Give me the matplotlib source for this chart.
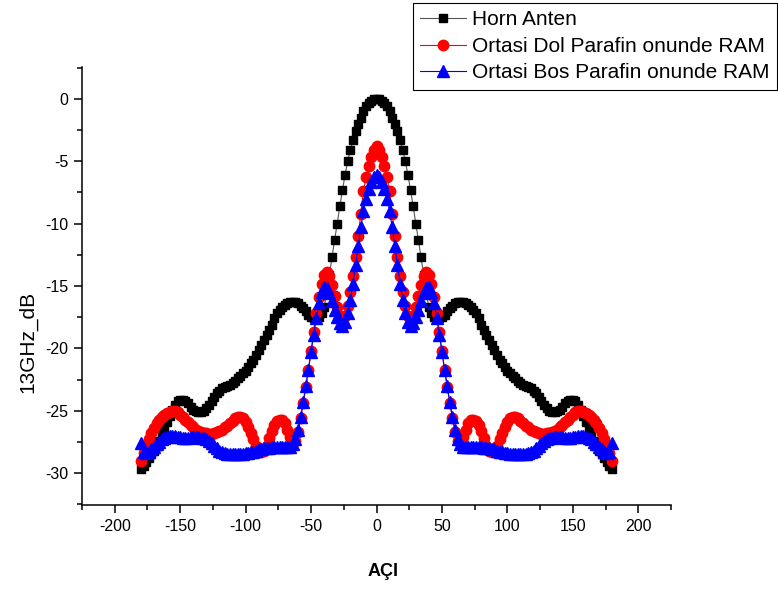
import numpy as np
import matplotlib
matplotlib.use('Agg')
import matplotlib.pyplot as plt

plt.rcParams['font.family'] = ['Liberation Sans', 'DejaVu Sans']
plt.rcParams['axes.unicode_minus'] = False

# angle grid (degrees)
aci = np.arange(-180, 181, 2)

horn = [
    -29.7, -29.4, -29.1, -28.8, -28.5, -28.2, -27.8, -27.4, -26.9, -26.4,
    -25.9, -25.4, -24.9, -24.5, -24.2, -24.1, -24.1, -24.2, -24.4, -24.7,
    -24.9, -25.0, -25.1, -25.1, -25.0, -24.8, -24.5, -24.2, -23.9, -23.6,
    -23.4, -23.2, -23.1, -23.0, -22.9, -22.8, -22.6, -22.4, -22.2, -22.0,
    -21.8, -21.5, -21.2, -20.9, -20.5, -20.1, -19.7, -19.3, -18.9, -18.5,
    -18.1, -17.6, -17.2, -16.9, -16.7, -16.5, -16.4, -16.3, -16.3, -16.3,
    -16.4, -16.6, -16.8, -17.0, -17.3, -17.5, -17.6, -17.6, -17.5, -17.2,
    -16.7, -15.5, -14.1, -12.7, -11.3, -10.0, -8.6, -7.3, -6.1, -5.0,
    -4.1, -3.3, -2.6, -2.0, -1.5, -1.0, -0.6, -0.35, -0.15, -0.05,
    0.0,
    -0.05, -0.15, -0.35, -0.6, -1.0, -1.5, -2.0, -2.6, -3.3, -4.1,
    -5.0, -6.1, -7.3, -8.6, -10.0, -11.3, -12.7, -14.1, -15.5, -16.7,
    -17.2, -17.5, -17.6, -17.6, -17.5, -17.3, -17.0, -16.8, -16.6, -16.4,
    -16.3, -16.3, -16.3, -16.4, -16.5, -16.7, -16.9, -17.2, -17.6, -18.1,
    -18.5, -18.9, -19.3, -19.7, -20.1, -20.5, -20.9, -21.2, -21.5, -21.8,
    -22.0, -22.2, -22.4, -22.6, -22.8, -22.9, -23.0, -23.1, -23.2, -23.4,
    -23.6, -23.9, -24.2, -24.5, -24.8, -25.0, -25.1, -25.1, -25.0, -24.9,
    -24.7, -24.4, -24.2, -24.1, -24.1, -24.2, -24.5, -24.9, -25.4, -25.9,
    -26.4, -26.9, -27.4, -27.8, -28.2, -28.5, -28.8, -29.1, -29.4, -29.7,
]

dol = [
    -29.0, -28.4, -27.8, -27.3, -26.8, -26.4, -26.0, -25.7, -25.5, -25.3,
    -25.2, -25.1, -25.0, -25.0, -25.1, -25.3, -25.5, -25.7, -25.9, -26.1,
    -26.3, -26.5, -26.6, -26.7, -26.8, -26.8, -26.9, -26.9, -26.8, -26.7,
    -26.6, -26.5, -26.3, -26.2, -26.0, -25.8, -25.6, -25.5, -25.5, -25.6,
    -25.9, -26.3, -26.8, -27.3, -27.8, -28.1, -28.3, -28.2, -27.8, -27.2,
    -26.6, -26.1, -25.8, -25.7, -25.7, -26.0, -26.5, -27.1, -27.5, -27.4,
    -26.7, -25.6, -24.4, -23.1, -21.7, -20.2, -18.7, -17.2, -15.9, -14.8,
    -14.1, -13.9, -14.2, -14.9, -15.8, -16.7, -17.4, -17.7, -17.4, -16.6,
    -15.5, -14.2, -12.7, -11.0, -9.2, -7.4, -6.3, -5.4, -4.7, -4.1,
    -3.8,
    -4.1, -4.7, -5.4, -6.3, -7.4, -9.2, -11.0, -12.7, -14.2, -15.5,
    -16.6, -17.4, -17.7, -17.4, -16.7, -15.8, -14.9, -14.2, -13.9, -14.1,
    -14.8, -15.9, -17.2, -18.7, -20.2, -21.7, -23.1, -24.4, -25.6, -26.7,
    -27.4, -27.5, -27.1, -26.5, -26.0, -25.7, -25.7, -25.8, -26.1, -26.6,
    -27.2, -27.8, -28.2, -28.3, -28.1, -27.8, -27.3, -26.8, -26.3, -25.9,
    -25.6, -25.5, -25.5, -25.6, -25.8, -26.0, -26.2, -26.3, -26.5, -26.6,
    -26.7, -26.8, -26.9, -26.9, -26.8, -26.8, -26.7, -26.6, -26.5, -26.3,
    -26.1, -25.9, -25.7, -25.5, -25.3, -25.1, -25.0, -25.0, -25.1, -25.2,
    -25.3, -25.5, -25.7, -26.0, -26.4, -26.8, -27.3, -27.8, -28.4, -29.0,
]

bos = [
    -27.6, -28.3, -28.4, -28.3, -28.1, -27.9, -27.7, -27.5, -27.3, -27.2,
    -27.1, -27.0, -27.0, -27.0, -27.1, -27.1, -27.2, -27.2, -27.2, -27.1,
    -27.1, -27.1, -27.1, -27.2, -27.2, -27.3, -27.4, -27.6, -27.8, -28.0,
    -28.2, -28.3, -28.4, -28.5, -28.5, -28.5, -28.5, -28.5, -28.5, -28.5,
    -28.4, -28.4, -28.3, -28.3, -28.2, -28.1, -28.1, -28.0, -28.0, -28.0,
    -27.9, -27.9, -27.9, -27.9, -27.9, -27.9, -27.9, -27.9, -27.7, -27.3,
    -26.5, -25.5, -24.3, -23.0, -21.7, -20.3, -18.9, -17.6, -16.4, -15.5,
    -15.1, -15.2, -15.6, -16.2, -16.9, -17.5, -18.0, -18.2, -17.9, -17.2,
    -16.1, -14.8, -13.3, -11.8, -10.3, -9.0, -8.0, -7.2, -6.7, -6.3,
    -6.1,
    -6.3, -6.7, -7.2, -8.0, -9.0, -10.3, -11.8, -13.3, -14.8, -16.1,
    -17.2, -17.9, -18.2, -18.0, -17.5, -16.9, -16.2, -15.6, -15.2, -15.1,
    -15.5, -16.4, -17.6, -18.9, -20.3, -21.7, -23.0, -24.3, -25.5, -26.5,
    -27.3, -27.7, -27.9, -27.9, -27.9, -27.9, -27.9, -27.9, -27.9, -27.9,
    -28.0, -28.0, -28.0, -28.1, -28.1, -28.2, -28.3, -28.3, -28.4, -28.4,
    -28.5, -28.5, -28.5, -28.5, -28.5, -28.5, -28.5, -28.4, -28.3, -28.2,
    -28.0, -27.8, -27.6, -27.4, -27.3, -27.2, -27.2, -27.1, -27.1, -27.1,
    -27.1, -27.2, -27.2, -27.2, -27.1, -27.1, -27.0, -27.0, -27.0, -27.1,
    -27.2, -27.3, -27.5, -27.7, -27.9, -28.1, -28.3, -28.4, -28.3, -27.6,
]

labels = ['Horn Anten', 'Ortasi Dol Parafin onunde RAM', 'Ortasi Bos Parafin onunde RAM']

fig = plt.figure(figsize=(7.78, 5.9), dpi=100)
ax = fig.add_axes([82 / 778, 1 - 505 / 590, (671 - 82) / 778, (505 - 67) / 590])

ax.plot(aci, horn, '-', color='#555555', lw=0.8, marker='s', ms=6.3,
        mfc='black', mec='black', label=labels[0])
ax.plot(aci, dol, '-', color='red', lw=0.8, marker='o', ms=7.5,
        mfc='red', mec='red', label=labels[1])
ax.plot(aci, bos, '-', color='blue', lw=0.8, marker='^', ms=8,
        mfc='blue', mec='blue', label=labels[2])

ax.set_xlim(-225, 225)
ax.set_ylim(-32.55, 2.55)
ax.set_xticks(np.arange(-200, 201, 50))
ax.set_xticks(np.arange(-225, 226, 25), minor=True)
ax.set_yticks(np.arange(-30, 1, 5))
ax.set_yticks(np.arange(-32.5, 2.6, 2.5), minor=True)

for s in ['top', 'right']:
    ax.spines[s].set_visible(False)
for s in ['left', 'bottom']:
    ax.spines[s].set_linewidth(1.1)

ax.tick_params(which='major', direction='out', length=6, width=1.1, labelsize=11.5, pad=4)
ax.tick_params(which='minor', direction='out', length=3.5, width=1.1)

ax.set_xlabel('AÇI', fontsize=13, fontweight='bold')
ax.xaxis.set_label_coords((383 - 82) / 589, (505 - 563) / 438)
ax.set_ylabel('13GHz_dB', fontsize=15)
ax.yaxis.set_label_coords((37 - 82) / 589, (505 - 342) / 438)

leg = ax.legend(loc='upper right', bbox_to_anchor=(777 / 778, 1 - 3 / 590),
                bbox_transform=fig.transFigure, borderaxespad=0, fontsize=15,
                frameon=True, fancybox=False, edgecolor='black', framealpha=1,
                handlelength=2.2, handletextpad=0.3, labelspacing=0.36,
                borderpad=0.35)
leg.get_frame().set_linewidth(0.8)

fig.savefig('out.png', dpi=100)
